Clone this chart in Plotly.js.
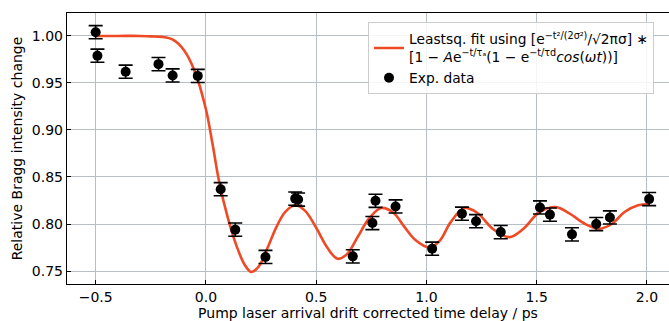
<!DOCTYPE html>
<html>
<head>
<meta charset="utf-8">
<script src="https://cdn.plot.ly/plotly-3.0.1.min.js"></script>
<style>html,body{margin:0;padding:0;background:#fff;}#chart{width:669px;height:321px;}</style>
</head>
<body>
<div id="chart"></div>
<script>
var expDelay = [-0.500, -0.492, -0.364, -0.215, -0.151, -0.037, 0.067, 0.133, 0.270, 0.405, 0.418, 0.666, 0.755, 0.769, 0.860, 1.026, 1.161, 1.225, 1.337, 1.515, 1.560, 1.660, 1.770, 1.832, 2.010];
var expIntensity = [1.004, 0.979, 0.962, 0.970, 0.958, 0.9575, 0.837, 0.794, 0.765, 0.827, 0.826, 0.7656, 0.801, 0.8247, 0.8187, 0.7737, 0.811, 0.803, 0.7914, 0.8176, 0.810, 0.789, 0.800, 0.807, 0.8265];
var expError = [0.007, 0.007, 0.007, 0.007, 0.007, 0.007, 0.007, 0.007, 0.007, 0.007, 0.007, 0.007, 0.007, 0.007, 0.007, 0.007, 0.007, 0.007, 0.007, 0.007, 0.007, 0.007, 0.007, 0.007, 0.007];

// Fitted curve
var fitDelay = [-0.5, -0.4, -0.3, -0.25, -0.2, -0.15, -0.1, -0.05, 0.0, 0.03, 0.06, 0.10, 0.14, 0.175, 0.205, 0.24, 0.28, 0.32, 0.36, 0.405, 0.45, 0.50, 0.55, 0.597, 0.64, 0.69, 0.74, 0.795, 0.85, 0.90, 0.95, 1.013, 1.06, 1.11, 1.172, 1.23, 1.30, 1.376, 1.44, 1.51, 1.587, 1.65, 1.72, 1.784, 1.84, 1.90, 1.96, 2.01];
var fitIntensity = [1.000, 1.000, 1.000, 0.9995, 0.999, 0.996, 0.985, 0.962, 0.922, 0.885, 0.845, 0.806, 0.776, 0.757, 0.749, 0.755, 0.775, 0.797, 0.813, 0.820, 0.814, 0.796, 0.775, 0.763, 0.768, 0.787, 0.806, 0.817, 0.812, 0.797, 0.783, 0.775, 0.782, 0.802, 0.817, 0.812, 0.795, 0.786, 0.795, 0.812, 0.818, 0.811, 0.800, 0.795, 0.800, 0.813, 0.820, 0.821];

var xTicks = [-0.5, 0.0, 0.5, 1.0, 1.5, 2.0];
var xTickText = ['\u22120.5', '0.0', '0.5', '1.0', '1.5', '2.0'];
var yTicks = [0.75, 0.80, 0.85, 0.90, 0.95, 1.00];
var yTickText = ['0.75', '0.80', '0.85', '0.90', '0.95', '1.00'];

var fitName = 'Leastsq. fit using [e<sup>\u2212t\u00b2/(2\u03c3\u00b2)</sup>/\u221a2\u03c0\u03c3] \u2217<br>[1 \u2212 <i>A</i>e<sup>\u2212t/\u03c4\u2090</sup>(1 \u2212 e<sup>\u2212t/\u03c4d</sup><i>cos</i>(<i>\u03c9t</i>))]';

var traces = [
  {
    x: fitDelay, y: fitIntensity, type: 'scatter', mode: 'lines',
    line: {color: '#ef4a26', width: 2.6, shape: 'spline', smoothing: 1.0},
    name: fitName
  },
  {
    x: expDelay, y: expIntensity, type: 'scatter', mode: 'markers',
    marker: {color: '#000', size: 10},
    error_y: {type: 'data', array: expError, visible: true, color: '#000', thickness: 1.6, width: 7},
    name: 'Exp. data'
  }
];

var layout = {
  width: 669, height: 321,
  margin: {l: 67, r: 0, t: 13, b: 37},
  paper_bgcolor: '#fff', plot_bgcolor: '#fff',
  font: {family: 'DejaVu Sans', size: 14, color: '#000'},
  showlegend: true,
  legend: {
    x: 0.5, y: 0.965, xanchor: 'left', yanchor: 'top',
    bgcolor: 'rgba(255,255,255,0.85)', bordercolor: '#cccccc', borderwidth: 1,
    font: {family: 'DejaVu Sans', size: 13.8, color: '#000'},
    tracegroupgap: 0
  },
  xaxis: {
    range: [-0.63, 2.1], tickvals: xTicks, ticktext: xTickText,
    ticks: 'inside', ticklen: 4, tickcolor: '#000', tickwidth: 1,
    showline: true, linecolor: '#000', linewidth: 1.2, mirror: true,
    showgrid: true, gridcolor: '#b7bec6', gridwidth: 1, zeroline: false,
    tickfont: {family: 'DejaVu Sans', size: 14},
    title: {text: 'Pump laser arrival drift corrected time delay / ps', font: {family: 'DejaVu Sans', size: 14}, standoff: 2}
  },
  yaxis: {
    range: [0.7362, 1.0244], tickvals: yTicks, ticktext: yTickText,
    ticks: 'inside', ticklen: 4, tickcolor: '#000', tickwidth: 1,
    showline: true, linecolor: '#000', linewidth: 1.2, mirror: true,
    showgrid: true, gridcolor: '#b7bec6', gridwidth: 1, zeroline: false,
    tickfont: {family: 'DejaVu Sans', size: 14},
    title: {text: 'Relative Bragg intensity change', font: {family: 'DejaVu Sans', size: 14}, standoff: 6}
  }
};

Plotly.newPlot('chart', traces, layout, {displayModeBar: false, staticPlot: true});
</script>
</body>
</html>
